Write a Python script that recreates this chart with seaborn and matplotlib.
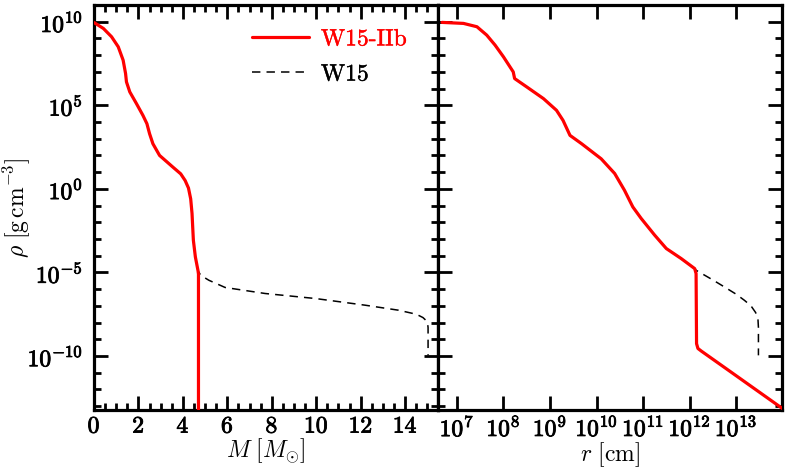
import numpy as np
import pandas as pd
import seaborn as sns
import matplotlib
matplotlib.use("Agg")
import matplotlib.pyplot as plt
import matplotlib.patheffects as pe
from matplotlib.ticker import FixedLocator, NullLocator, NullFormatter, MultipleLocator

# ---- data (log10 values) ----
# Left panel: mass coordinate [Msun] vs log10 density
m_iib = [0.0, 0.42, 0.79, 1.09, 1.31, 1.42, 1.46, 1.61, 1.91, 2.2, 2.38, 2.5,
         2.65, 2.95, 3.55, 3.9, 4.1, 4.25, 4.35, 4.41, 4.47, 4.56, 4.68, 4.70, 4.70]
lrho_m_iib = [9.95, 9.6, 9.1, 8.5, 7.7, 6.9, 6.4, 5.8, 5.1, 4.4, 3.9, 3.3,
              2.7, 2.0, 1.3, 0.9, 0.5, 0.05, -0.6, -1.47, -3.07, -4.07, -4.9, -5.1, -15.0]
m_w15 = [0.0, 0.42, 0.79, 1.09, 1.31, 1.42, 1.46, 1.61, 1.91, 2.2, 2.38, 2.5,
         2.65, 2.95, 3.55, 3.9, 4.1, 4.25, 4.35, 4.41, 4.47, 4.56, 4.68, 4.80, 5.17, 5.9,
         7.7, 9.96, 12.2, 13.7, 14.5, 14.8, 15.0, 15.03, 15.03]
lrho_m_w15 = [9.95, 9.6, 9.1, 8.5, 7.7, 6.9, 6.4, 5.8, 5.1, 4.4, 3.9, 3.3,
              2.7, 2.0, 1.3, 0.9, 0.5, 0.05, -0.6, -1.47, -3.07, -4.07, -4.9, -5.17, -5.47, -5.9,
              -6.26, -6.56, -6.96, -7.26, -7.5, -7.7, -7.95, -8.3, -9.96]
# Right panel: log10 radius [cm] vs log10 density
lr_iib = [6.68, 7.14, 7.43, 7.64, 7.82, 8.0, 8.14, 8.21, 8.24, 8.5, 8.86, 9.14,
          9.28, 9.43, 9.68, 10.1, 10.39, 10.6, 10.78, 10.96, 11.25, 11.5, 11.82,
          12.11, 12.14, 12.15, 12.18, 12.25, 12.89, 14.0]
lrho_r_iib = [9.96, 9.9, 9.7, 9.2, 8.6, 7.9, 7.3, 7.0, 6.6, 6.1, 5.4, 4.7,
              4.1, 3.2, 2.7, 1.8, 0.92, -0.08, -1.08, -1.77, -2.77, -3.57, -4.17,
              -4.77, -5.07, -9.26, -9.55, -9.7, -10.96, -13.15]
lr_w15 = [6.68, 7.14, 7.43, 7.64, 7.82, 8.0, 8.14, 8.21, 8.24, 8.5, 8.86, 9.14,
          9.28, 9.43, 9.68, 10.1, 10.39, 10.6, 10.78, 10.96, 11.25, 11.5, 11.82,
          12.11, 12.14, 12.5, 12.75, 13.0, 13.18, 13.32, 13.42, 13.47, 13.48, 13.48]
lrho_r_w15 = [9.96, 9.9, 9.7, 9.2, 8.6, 7.9, 7.3, 7.0, 6.6, 6.1, 5.4, 4.7,
              4.1, 3.2, 2.7, 1.8, 0.92, -0.08, -1.08, -1.77, -2.77, -3.57, -4.17,
              -4.77, -4.87, -5.45, -5.87, -6.3, -6.67, -7.0, -7.4, -7.8, -8.3, -9.96]

labels = ["W15-IIb", "W15"]
colors = ["red", "black"]
m_ticks = [0, 2, 4, 6, 8, 10, 12, 14]
r_ticks_exp = [7, 8, 9, 10, 11, 12, 13]
rho_ticks_exp = [-10, -5, 0, 5, 10]

# ---- style ----
sns.set_style("ticks")
plt.rcParams["mathtext.fontset"] = "cm"
plt.rcParams["font.family"] = ["cmr10", "DejaVu Serif"]
plt.rcParams["axes.unicode_minus"] = False
plt.rcParams["axes.edgecolor"] = "black"
plt.rcParams["xtick.color"] = "black"
plt.rcParams["ytick.color"] = "black"
plt.rcParams["text.color"] = "black"
plt.rcParams["axes.labelcolor"] = "black"

fig, axes = plt.subplots(1, 2, figsize=(7.88, 4.73), dpi=100, sharey=True,
                         gridspec_kw=dict(wspace=0))
fig.subplots_adjust(left=0.1193, right=0.992, top=0.9894, bottom=0.1332)

dfl_a = pd.DataFrame({"x": m_iib, "y": np.power(10.0, lrho_m_iib)})
dfl_b = pd.DataFrame({"x": m_w15, "y": np.power(10.0, lrho_m_w15)})
dfr_a = pd.DataFrame({"x": np.power(10.0, lr_iib), "y": np.power(10.0, lrho_r_iib)})
dfr_b = pd.DataFrame({"x": np.power(10.0, lr_w15), "y": np.power(10.0, lrho_r_w15)})

ax1, ax2 = axes
for ax, da, db in [(ax1, dfl_a, dfl_b), (ax2, dfr_a, dfr_b)]:
    sns.lineplot(data=db, x="x", y="y", ax=ax, sort=False, estimator=None,
                 color=colors[1], lw=1.1, label=labels[1], zorder=2)
    ax.lines[-1].set_dashes([5.5, 4])
    sns.lineplot(data=da, x="x", y="y", ax=ax, sort=False, estimator=None,
                 color=colors[0], lw=2.3, label=labels[0], zorder=3)

ax1.set_yscale("log")
ax2.set_xscale("log")
ax1.set_ylim(10**-13.23, 10**11.0)
ax1.set_xlim(0, 15.47)
ax2.set_xlim(10**6.59, 10**13.98)

def bf(s):
    return r"$\mathbf{" + s + "}$"

ax1.xaxis.set_major_locator(FixedLocator(m_ticks))
ax1.xaxis.set_minor_locator(MultipleLocator(0.5))
ax1.set_xticklabels([bf(str(t)) for t in m_ticks])

ax2.xaxis.set_major_locator(FixedLocator([10.0**e for e in r_ticks_exp]))
ax2.xaxis.set_minor_locator(NullLocator())
ax2.set_xticklabels([bf("10^{%d}" % e) for e in r_ticks_exp])

ax1.yaxis.set_major_locator(FixedLocator([10.0**e for e in rho_ticks_exp]))
ax1.yaxis.set_minor_locator(FixedLocator([10.0**e for e in range(-13, 11) if e % 5 != 0]))
ax1.yaxis.set_minor_formatter(NullFormatter())
ax1.set_yticklabels([bf("10^{%d}" % e) for e in rho_ticks_exp])

for ax in axes:
    ax.tick_params(which="both", direction="in", top=True, right=True,
                   width=2.0, labelsize=17)
    ax.tick_params(axis="x", pad=4)
    ax.tick_params(axis="y", pad=8)
    ax.tick_params(which="major", length=10)
    ax.tick_params(which="minor", length=5)
    for s in ax.spines.values():
        s.set_linewidth(2.3)
ax2.tick_params(labelleft=False)

bold = [pe.withStroke(linewidth=0.6, foreground="black")]
for ax in axes:
    for t in ax.get_xticklabels() + ax.get_yticklabels():
        t.set_path_effects(bold)

ax1.set_xlabel(r"$M\ [M_{\odot}]$", fontsize=17, labelpad=-1)
ax2.set_xlabel(r"$r\ [\mathrm{cm}]$", fontsize=17, labelpad=-1)
ax1.set_ylabel(r"$\rho\ [\mathrm{g\,cm^{-3}}]$", fontsize=17, labelpad=-4)

ax2.get_legend().remove()
h, l = ax1.get_legend_handles_labels()
order = [l.index(labels[0]), l.index(labels[1])]
leg = ax1.legend([h[i] for i in order], [l[i] for i in order], loc="upper left",
                 bbox_to_anchor=(0.44, 0.96), frameon=False, fontsize=17,
                 handlelength=2.4, handletextpad=0.5, labelspacing=0.55,
                 borderaxespad=0, borderpad=0.3)
for txt, c in zip(leg.get_texts(), colors):
    txt.set_color(c)
    txt.set_path_effects([pe.withStroke(linewidth=0.3, foreground=c)])

fig.savefig("out.png", dpi=100)
